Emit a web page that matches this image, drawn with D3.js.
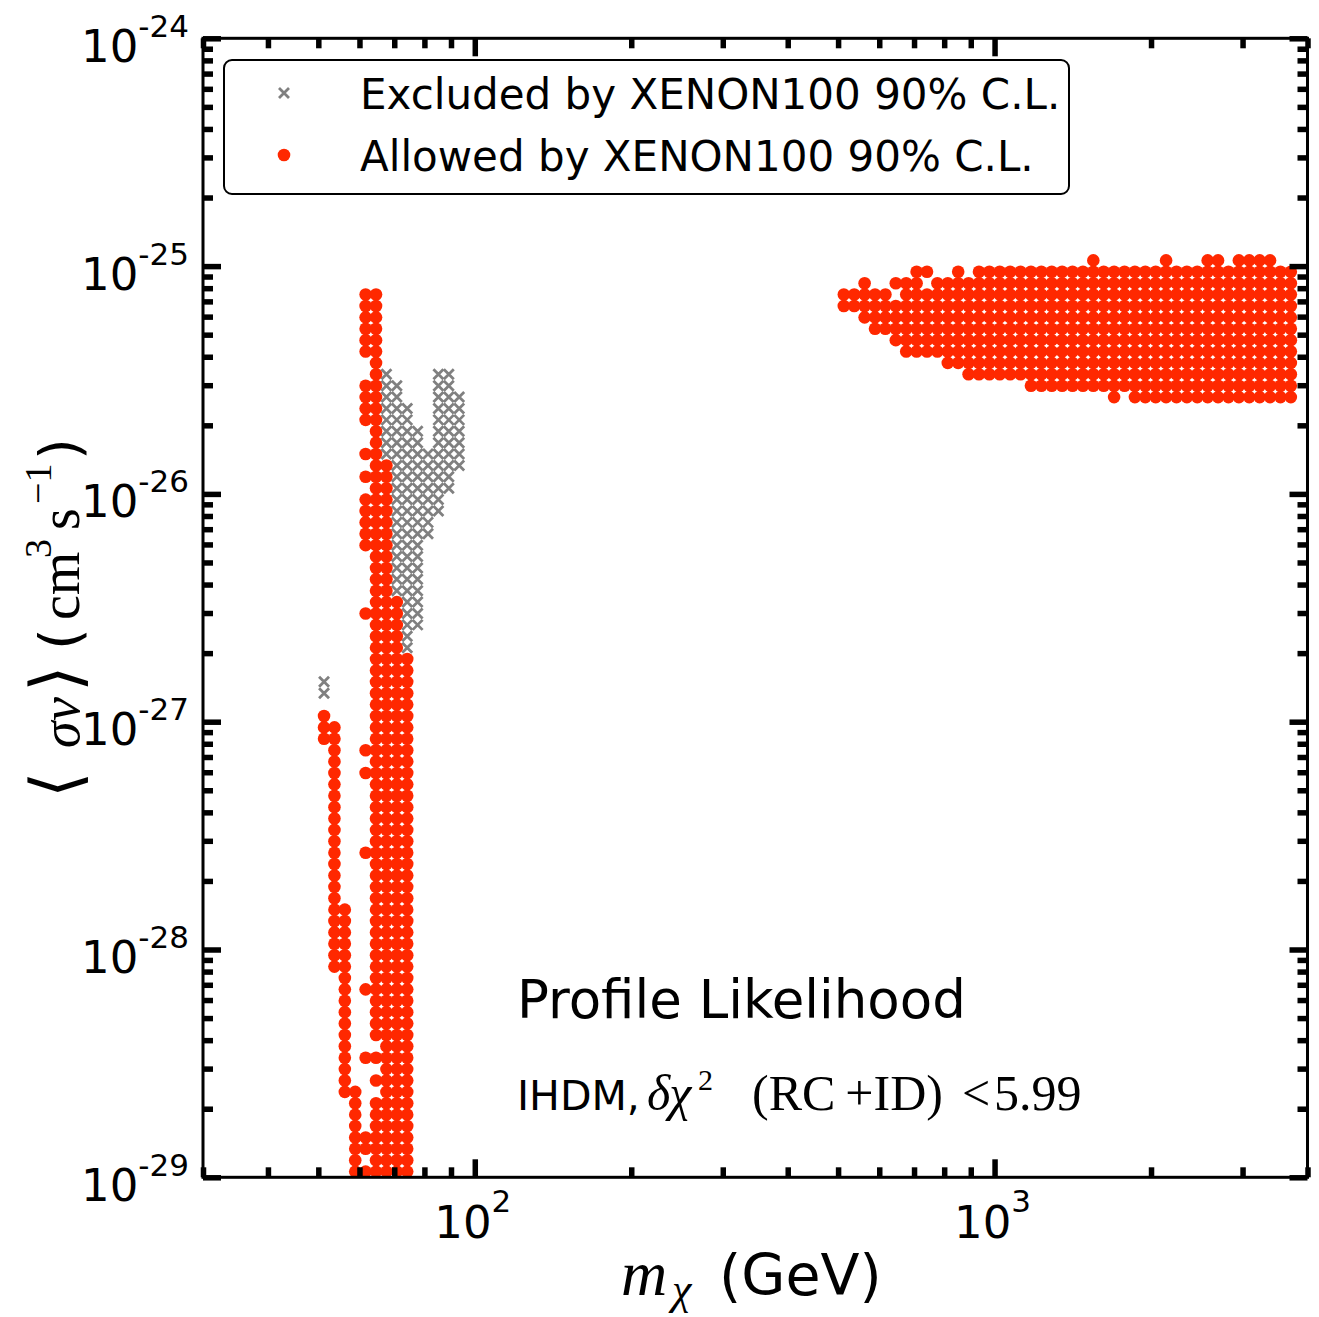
<!DOCTYPE html>
<html>
<head>
<meta charset="utf-8">
<script src="https://cdn.jsdelivr.net/npm/d3@7"></script>
<style>
  body { margin: 0; background: #fff; }
  svg { display: block; }
  text { fill: #000; }
</style>
</head>
<body>
<svg id="chart" width="1319" height="1317"></svg>
<script>
// ---- Axis ranges and ticks ----
const massDomain = [30, 4000];          // m_chi (GeV)
const sigmaDomain = [1e-29, 1e-24];     // <sigma v> (cm^3 s^-1)
const xMajorTicks = [100, 1000];
const xTickExponents = ["2", "3"];
const yMajorTicks = [1e-29, 1e-28, 1e-27, 1e-26, 1e-25, 1e-24];
const yTickExponents = ["-29", "-28", "-27", "-26", "-25", "-24"];

// ---- Likelihood scan grid (log10 bin widths) ----
const logMassStep = 0.02;
const logSigmaStep = 0.05;

// Light-mass island: columns log10 m = 1.71 ... 1.97, rows from log10 <sv> = -25.125 downwards.
// 'o' = allowed by XENON100, 'x' = excluded by XENON100, '.' = empty bin
const lowMassFirstLogM = 1.71;
const lowMassTopLogSigma = -25.125;
const lowMassMap = [
  "....oo........",
  "....oo........",
  "....oo........",
  "....oo........",
  "....oo........",
  "....oo........",
  ".....o........",
  ".....ox....xx.",
  "....ooxx...xx.",
  "....ooxx...xxx",
  "....ooxxx..xxx",
  "....ooxxx..xxx",
  ".....oxxxx.xxx",
  ".....oxxxx.xxx",
  "....ooxxxxxxxx",
  ".....ooxxxxxxx",
  "....oooxxxxxx.",
  ".....ooxxxxxx.",
  "....oooxxxxx..",
  "....oooxxxxx..",
  "....oooxxxx...",
  "....oooxxxx...",
  "....oooxxx....",
  ".....ooxxx....",
  ".....ooxxx....",
  ".....ooxxx....",
  ".....ooxxx....",
  ".....oooxx....",
  "....ooooxx....",
  ".....oooxx....",
  ".....ooox.....",
  ".....ooox.....",
  ".....oooo.....",
  ".....oooo.....",
  "x....oooo.....",
  "x....oooo.....",
  ".....oooo.....",
  "o....oooo.....",
  "oo...oooo.....",
  "oo...oooo.....",
  ".o..ooooo.....",
  ".o...oooo.....",
  ".o..ooooo.....",
  ".o...oooo.....",
  ".o...oooo.....",
  ".o...oooo.....",
  ".o...oooo.....",
  ".o...oooo.....",
  ".o...oooo.....",
  ".o..ooooo.....",
  ".o...oooo.....",
  ".o...oooo.....",
  ".o...oooo.....",
  ".o...oooo.....",
  ".oo..oooo.....",
  ".oo..oooo.....",
  ".oo..oooo.....",
  ".oo..oooo.....",
  ".oo..oooo.....",
  ".oo..oooo.....",
  "..o..oooo.....",
  "..o.ooooo.....",
  "..o..oooo.....",
  "..o..oooo.....",
  "..o..oooo.....",
  "..o..oooo.....",
  "..o...ooo.....",
  "..o.ooooo.....",
  "..o...ooo.....",
  "..o..oooo.....",
  "..oo..ooo.....",
  "...o.oooo.....",
  "...o.oooo.....",
  "...o.oooo.....",
  "...oooooo.....",
  "...oooooo.....",
  "...o.oooo.....",
  "...oooooo....."
];

// Heavy-mass band: columns log10 m = 2.71 ... 3.57, rows from log10 <sv> = -24.975 downwards.
const highMassFirstLogM = 2.71;
const highMassTopLogSigma = -24.975;
const highMassMap = [
  "........................o......o...oo.oooo..",
  ".......oo..o.ooooooooooooooooooooooooooooooo",
  "..o..ooo.ooooooooooooooooooooooooooooooooooo",
  "ooooo.oooooooooooooooooooooooooooooooooooooo",
  "oooooooooooooooooooooooooooooooooooooooooooo",
  "..oooooooooooooooooooooooooooooooooooooooooo",
  "...ooooooooooooooooooooooooooooooooooooooooo",
  ".....ooooooooooooooooooooooooooooooooooooooo",
  "......oooooooooooooooooooooooooooooooooooooo",
  "..........oooooooooooooooooooooooooooooooooo",
  "............oooooooooooooooooooooooooooooooo",
  "..................oooooooooooooooooooooooooo",
  "..........................o.oooooooooooooooo"
];

const legendLabels = ["Excluded by XENON100 90% C.L.", "Allowed by XENON100 90% C.L."];
const allowedColor = "#ff2800";
const excludedColor = "#808080";

// ---- Layout ----
const plot = { left: 203, right: 1307.5, top: 38.3, bottom: 1177.3 };
const sans = "'DejaVu Sans', sans-serif";
const serif = "'Liberation Serif', 'DejaVu Serif', serif";

const svg = d3.select("#chart");
const x = d3.scaleLog().domain(massDomain).range([plot.left, plot.right]);
const y = d3.scaleLog().domain(sigmaDomain).range([plot.bottom, plot.top]);

// Expand a bin map into individual scan points
function mapToPoints(map, firstLogM, topLogSigma) {
  const pts = [];
  map.forEach((row, i) => {
    Array.from(row).forEach((ch, j) => {
      if (ch === ".") return;
      pts.push({
        mass: Math.pow(10, firstLogM + j * logMassStep),
        sigma: Math.pow(10, topLogSigma - i * logSigmaStep),
        allowed: ch === "o"
      });
    });
  });
  return pts;
}
const points = mapToPoints(lowMassMap, lowMassFirstLogM, lowMassTopLogSigma)
  .concat(mapToPoints(highMassMap, highMassFirstLogM, highMassTopLogSigma));
const excluded = points.filter(d => !d.allowed);
const allowed = points.filter(d => d.allowed);

svg.append("defs").append("clipPath").attr("id", "plot-clip")
  .append("rect")
  .attr("x", plot.left).attr("y", plot.top)
  .attr("width", plot.right - plot.left).attr("height", plot.bottom - plot.top);

const marks = svg.append("g").attr("clip-path", "url(#plot-clip)");
const crossPath = "M-5,-5L5,5M-5,5L5,-5";

marks.append("g").selectAll("path").data(excluded).join("path")
  .attr("transform", d => `translate(${x(d.mass)},${y(d.sigma)})`)
  .attr("d", crossPath)
  .attr("stroke", excludedColor).attr("stroke-width", 2.8).attr("fill", "none");

marks.append("g").selectAll("circle").data(allowed).join("circle")
  .attr("cx", d => x(d.mass)).attr("cy", d => y(d.sigma))
  .attr("r", 6.3).attr("fill", allowedColor);

// ---- Axes: inward ticks on all four sides ----
const xMinor = x.ticks().filter(v => !xMajorTicks.includes(v));
const yMinor = y.ticks().filter(v => !yMajorTicks.some(t => Math.abs(t - v) / t < 1e-6));

function styleAxis(g, width) {
  g.select(".domain").remove();
  g.selectAll(".tick line").attr("stroke", "#000").attr("stroke-width", width);
  g.selectAll(".tick text").remove();
}
const axisDefs = [
  [d3.axisBottom, x, `translate(0,${plot.bottom})`],
  [d3.axisTop, x, `translate(0,${plot.top})`],
  [d3.axisLeft, y, `translate(${plot.left},0)`],
  [d3.axisRight, y, `translate(${plot.right},0)`]
];
axisDefs.forEach(([make, scale, tr]) => {
  const isX = scale === x;
  svg.append("g").attr("transform", tr)
    .call(make(scale).tickValues(isX ? xMinor : yMinor).tickSize(-10).tickFormat(""))
    .call(g => styleAxis(g, 5.5));
  svg.append("g").attr("transform", tr)
    .call(make(scale).tickValues(isX ? xMajorTicks : yMajorTicks).tickSize(-18).tickFormat(""))
    .call(g => styleAxis(g, 5.5));
});

svg.append("rect")
  .attr("x", plot.left).attr("y", plot.top)
  .attr("width", plot.right - plot.left).attr("height", plot.bottom - plot.top)
  .attr("fill", "none").attr("stroke", "#000").attr("stroke-width", 3);

// ---- Tick labels (10^n) ----
yMajorTicks.forEach((v, i) => {
  const t = svg.append("text")
    .attr("x", 189).attr("y", y(v) + 23.5)
    .attr("text-anchor", "end")
    .style("font-family", sans).style("font-size", "45px");
  t.append("tspan").text("10");
  t.append("tspan").attr("dy", -25).style("font-size", "31px").text(yTickExponents[i]);
});
xMajorTicks.forEach((v, i) => {
  const t = svg.append("text")
    .attr("x", x(v) - 2).attr("y", plot.bottom + 61)
    .attr("text-anchor", "middle")
    .style("font-family", sans).style("font-size", "45px");
  t.append("tspan").text("10");
  t.append("tspan").attr("dy", -26).style("font-size", "31px").text(xTickExponents[i]);
});

// ---- Axis titles ----
const xTitle = svg.append("g");
xTitle.append("text").attr("x", 621).attr("y", 1295)
  .style("font-family", serif).style("font-style", "italic").style("font-size", "64px").text("m");
xTitle.append("text").attr("x", 672).attr("y", 1304)
  .style("font-family", serif).style("font-style", "italic").style("font-size", "44px").text("χ");
xTitle.append("text").attr("x", 719).attr("y", 1295)
  .style("font-family", sans).style("font-size", "57px").text("(GeV)");

// y title runs bottom-to-top; each piece is placed along the rotated baseline
const yTitle = svg.append("g").attr("transform", "translate(79,800) rotate(-90)");
const yPieces = [
  { t: "⟨", u: 2,   fam: sans,  size: 68 },
  { t: "σ", u: 52,  fam: serif, size: 54, it: true },
  { t: "v", u: 79,  fam: serif, size: 54, it: true },
  { t: "⟩", u: 108, fam: sans,  size: 68 },
  { t: "(", u: 150, fam: sans,  size: 56 },
  { t: "cm", u: 180, fam: serif, size: 56 },
  { t: "3", u: 242, fam: serif, size: 38, up: 28 },
  { t: "s", u: 270, fam: serif, size: 56 },
  { t: "−1", u: 296, fam: serif, size: 38, up: 28 },
  { t: ")", u: 340, fam: sans,  size: 56 }
];
yPieces.forEach(p => {
  yTitle.append("text").attr("x", p.u).attr("y", -(p.up || 0))
    .style("font-family", p.fam).style("font-size", p.size + "px")
    .style("font-style", p.it ? "italic" : "normal")
    .text(p.t);
});

// ---- Legend ----
const legend = svg.append("g");
legend.append("rect")
  .attr("x", 224).attr("y", 60).attr("width", 845).attr("height", 134)
  .attr("rx", 8).attr("fill", "#fff").attr("stroke", "#000").attr("stroke-width", 2);
legend.append("path")
  .attr("transform", "translate(284,93)").attr("d", crossPath)
  .attr("stroke", excludedColor).attr("stroke-width", 2.8).attr("fill", "none");
legend.append("circle").attr("cx", 284).attr("cy", 155).attr("r", 6.3).attr("fill", allowedColor);
legendLabels.forEach((label, i) => {
  legend.append("text")
    .attr("x", 360).attr("y", 108.5 + i * 62)
    .style("font-family", sans).style("font-size", "42px")
    .text(label);
});

// ---- Annotations ----
svg.append("text").attr("x", 517).attr("y", 1018)
  .style("font-family", sans).style("font-size", "53px")
  .text("Profile Likelihood");

const note = svg.append("g");
note.append("text").attr("x", 517).attr("y", 1110)
  .style("font-family", sans).style("font-size", "41px").text("IHDM,");
note.append("text").attr("x", 647).attr("y", 1110)
  .style("font-family", serif).style("font-style", "italic").style("font-size", "50px").text("δχ");
note.append("text").attr("x", 698).attr("y", 1090)
  .style("font-family", serif).style("font-size", "30px").text("2");
note.append("text").attr("x", 752).attr("y", 1110)
  .style("font-family", serif).style("font-size", "50px").text("(RC\u2009+ID)");
note.append("text").attr("x", 962).attr("y", 1110)
  .style("font-family", serif).style("font-size", "50px").text("<");
note.append("text").attr("x", 994).attr("y", 1110)
  .style("font-family", serif).style("font-size", "50px").text("5.99");
</script>
</body>
</html>
